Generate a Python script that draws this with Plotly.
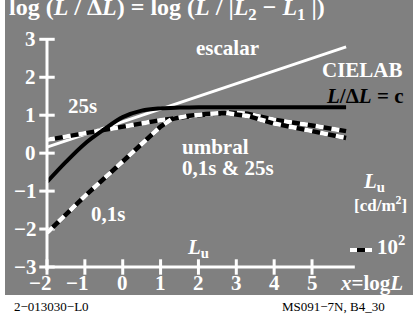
import plotly.graph_objects as go

# %% data
x_escalar = [-2, 5.9]
y_escalar = [0.16, 2.80]

x_cielab = [-2, -1.5, -1, -0.5, 0, 0.5, 1, 1.5, 2, 3, 4, 5, 5.9]
y_cielab = [-0.76, -0.23, 0.25, 0.62, 0.95, 1.12, 1.18, 1.20, 1.21, 1.21, 1.21, 1.21, 1.21]

x_25s = [-2, -1, 0, 1, 2, 2.8, 3.3, 4, 5, 5.9]
y_25s = [0.35, 0.52, 0.69, 0.87, 1.00, 1.07, 1.04, 0.88, 0.73, 0.58]

x_01s = [-2, -1, 0, 1, 1.3, 1.7, 2.2, 2.7, 3.3, 4, 5, 5.9]
y_01s = [-2.10, -1.13, -0.22, 0.70, 0.90, 0.98, 1.03, 1.06, 0.98, 0.78, 0.58, 0.40]

x_ticks = [-2, -1, 0, 1, 2, 3, 4, 5]
y_ticks = [-3, -2, -1, 0, 1, 2, 3]
x_ticklabels = ['−2', '−1', '0', '1', '2', '3', '4', '5']
y_ticklabels = ['−3', '−2', '−1', '0', '1', '2', '3']

W, H = 413, 323
FONT = 'Liberation Serif'
GRAY = '#808080'

# pixel -> data helpers (for placing the text labels)
def px2x(px):
    return -2 + (px - 47) / 37.86

def py2y(py):
    return 3 - (py - 39.3) / 37.95

fig = go.Figure()

# gray panel
fig.add_shape(type='rect', xref='paper', yref='paper', x0=5 / W, x1=1,
              y0=(H - 295) / H, y1=1, fillcolor=GRAY, line_width=0, layer='below')

# axes
fig.add_shape(type='line', x0=-2, x1=-2, y0=-3.08, y1=3, line=dict(color='white', width=3))
fig.add_shape(type='line', x0=-2.04, x1=6.13, y0=-3, y1=-3, line=dict(color='white', width=3))

fig.add_trace(go.Scatter(x=[-2] * len(y_ticks), y=y_ticks, mode='markers',
                         marker=dict(symbol='line-ew', size=11, line=dict(color='white', width=3))))
fig.add_trace(go.Scatter(x=x_ticks, y=[-3] * len(x_ticks), mode='markers',
                         marker=dict(symbol='line-ns', size=11, line=dict(color='white', width=3))))

# curves
fig.add_trace(go.Scatter(x=x_escalar, y=y_escalar, mode='lines',
                         line=dict(color='white', width=3)))
for xs, ys in [(x_25s, y_25s), (x_01s, y_01s)]:
    fig.add_trace(go.Scatter(x=xs, y=ys, mode='lines', line=dict(color='black', width=4.5)))
    fig.add_trace(go.Scatter(x=xs, y=ys, mode='lines',
                             line=dict(color='white', width=4.5, dash='8px,8px')))
fig.add_trace(go.Scatter(x=x_cielab, y=y_cielab, mode='lines',
                         line=dict(color='black', width=4), line_shape='spline'))

# legend sample for 10^2
fig.add_shape(type='line', x0=px2x(350), x1=px2x(372), y0=py2y(250), y1=py2y(250),
              line=dict(color='white', width=4))
fig.add_shape(type='line', x0=px2x(357), x1=px2x(365), y0=py2y(250), y1=py2y(250),
              line=dict(color='black', width=4))

def label(text, px, py, size=21, color='white', xanchor='center'):
    fig.add_annotation(x=px2x(px), y=py2y(py), text=text, showarrow=False,
                       xanchor=xanchor, yanchor='middle',
                       font=dict(family=FONT, size=size, color=color))

# tick labels
for v, t in zip(y_ticks, y_ticklabels):
    fig.add_annotation(x=px2x(38), y=v, text='<b>' + t + '</b>', showarrow=False,
                       xanchor='right', yanchor='middle',
                       font=dict(family=FONT, size=21, color='white'))
for v, t in zip(x_ticks, x_ticklabels):
    if v < 0:
        fig.add_annotation(x=v + 5.5 / 37.86, y=py2y(283), text='<b>' + t + '</b>',
                           showarrow=False, xanchor='right', yanchor='middle',
                           font=dict(family=FONT, size=21, color='white'))
    else:
        fig.add_annotation(x=v, y=py2y(283), text='<b>' + t + '</b>', showarrow=False,
                           xanchor='center', yanchor='middle',
                           font=dict(family=FONT, size=21, color='white'))

# texts
label('<b>log (<i>L</i> / Δ<i>L</i>) = log (<i>L</i> / |<i>L</i><sub>2</sub> − <i>L</i><sub>1</sub> |)</b>',
      7, 9, size=24, xanchor='left')
label('<b>escalar</b>', 227, 48)
label('<b>CIELAB</b>', 405, 70, xanchor='right')
label('<b><i>L</i>/Δ<i>L</i> = c</b>', 405, 96, color='black', xanchor='right')
label('<b>25s</b>', 66, 106, xanchor='left')
label('<b>umbral</b>', 180, 147, xanchor='left')
label('<b>0,1s &amp; 25s</b>', 180, 168, xanchor='left')
label('<b>0,1s</b>', 89, 214, xanchor='left')
label('<b><i>L</i><sub>u</sub></b>', 198, 248)
label('<b><i>L</i><sub>u</sub></b>', 374, 182)
label('<b>[cd/m<sup>2</sup>]</b>', 380, 204, size=17)
label('<b>10<sup>2</sup></b>', 375, 245, xanchor='left')
label('<b><i>x</i>=log<i>L</i></b>', 405, 283, xanchor='right')
label('2−013030−L0', 12, 306, size=13, color='black', xanchor='left')
label('MS091−7N, B4_30', 280, 306, size=13, color='black', xanchor='left')

fig.update_layout(
    width=W, height=H,
    margin=dict(l=0, r=0, t=0, b=0),
    paper_bgcolor='white', plot_bgcolor='white',
    showlegend=False,
    xaxis=dict(range=[px2x(0), px2x(W)], visible=False, fixedrange=True),
    yaxis=dict(range=[py2y(H), py2y(0)], visible=False, fixedrange=True),
)

fig.write_html('out.html', config={'displayModeBar': False},
               post_script="document.body.style.margin='0';")
